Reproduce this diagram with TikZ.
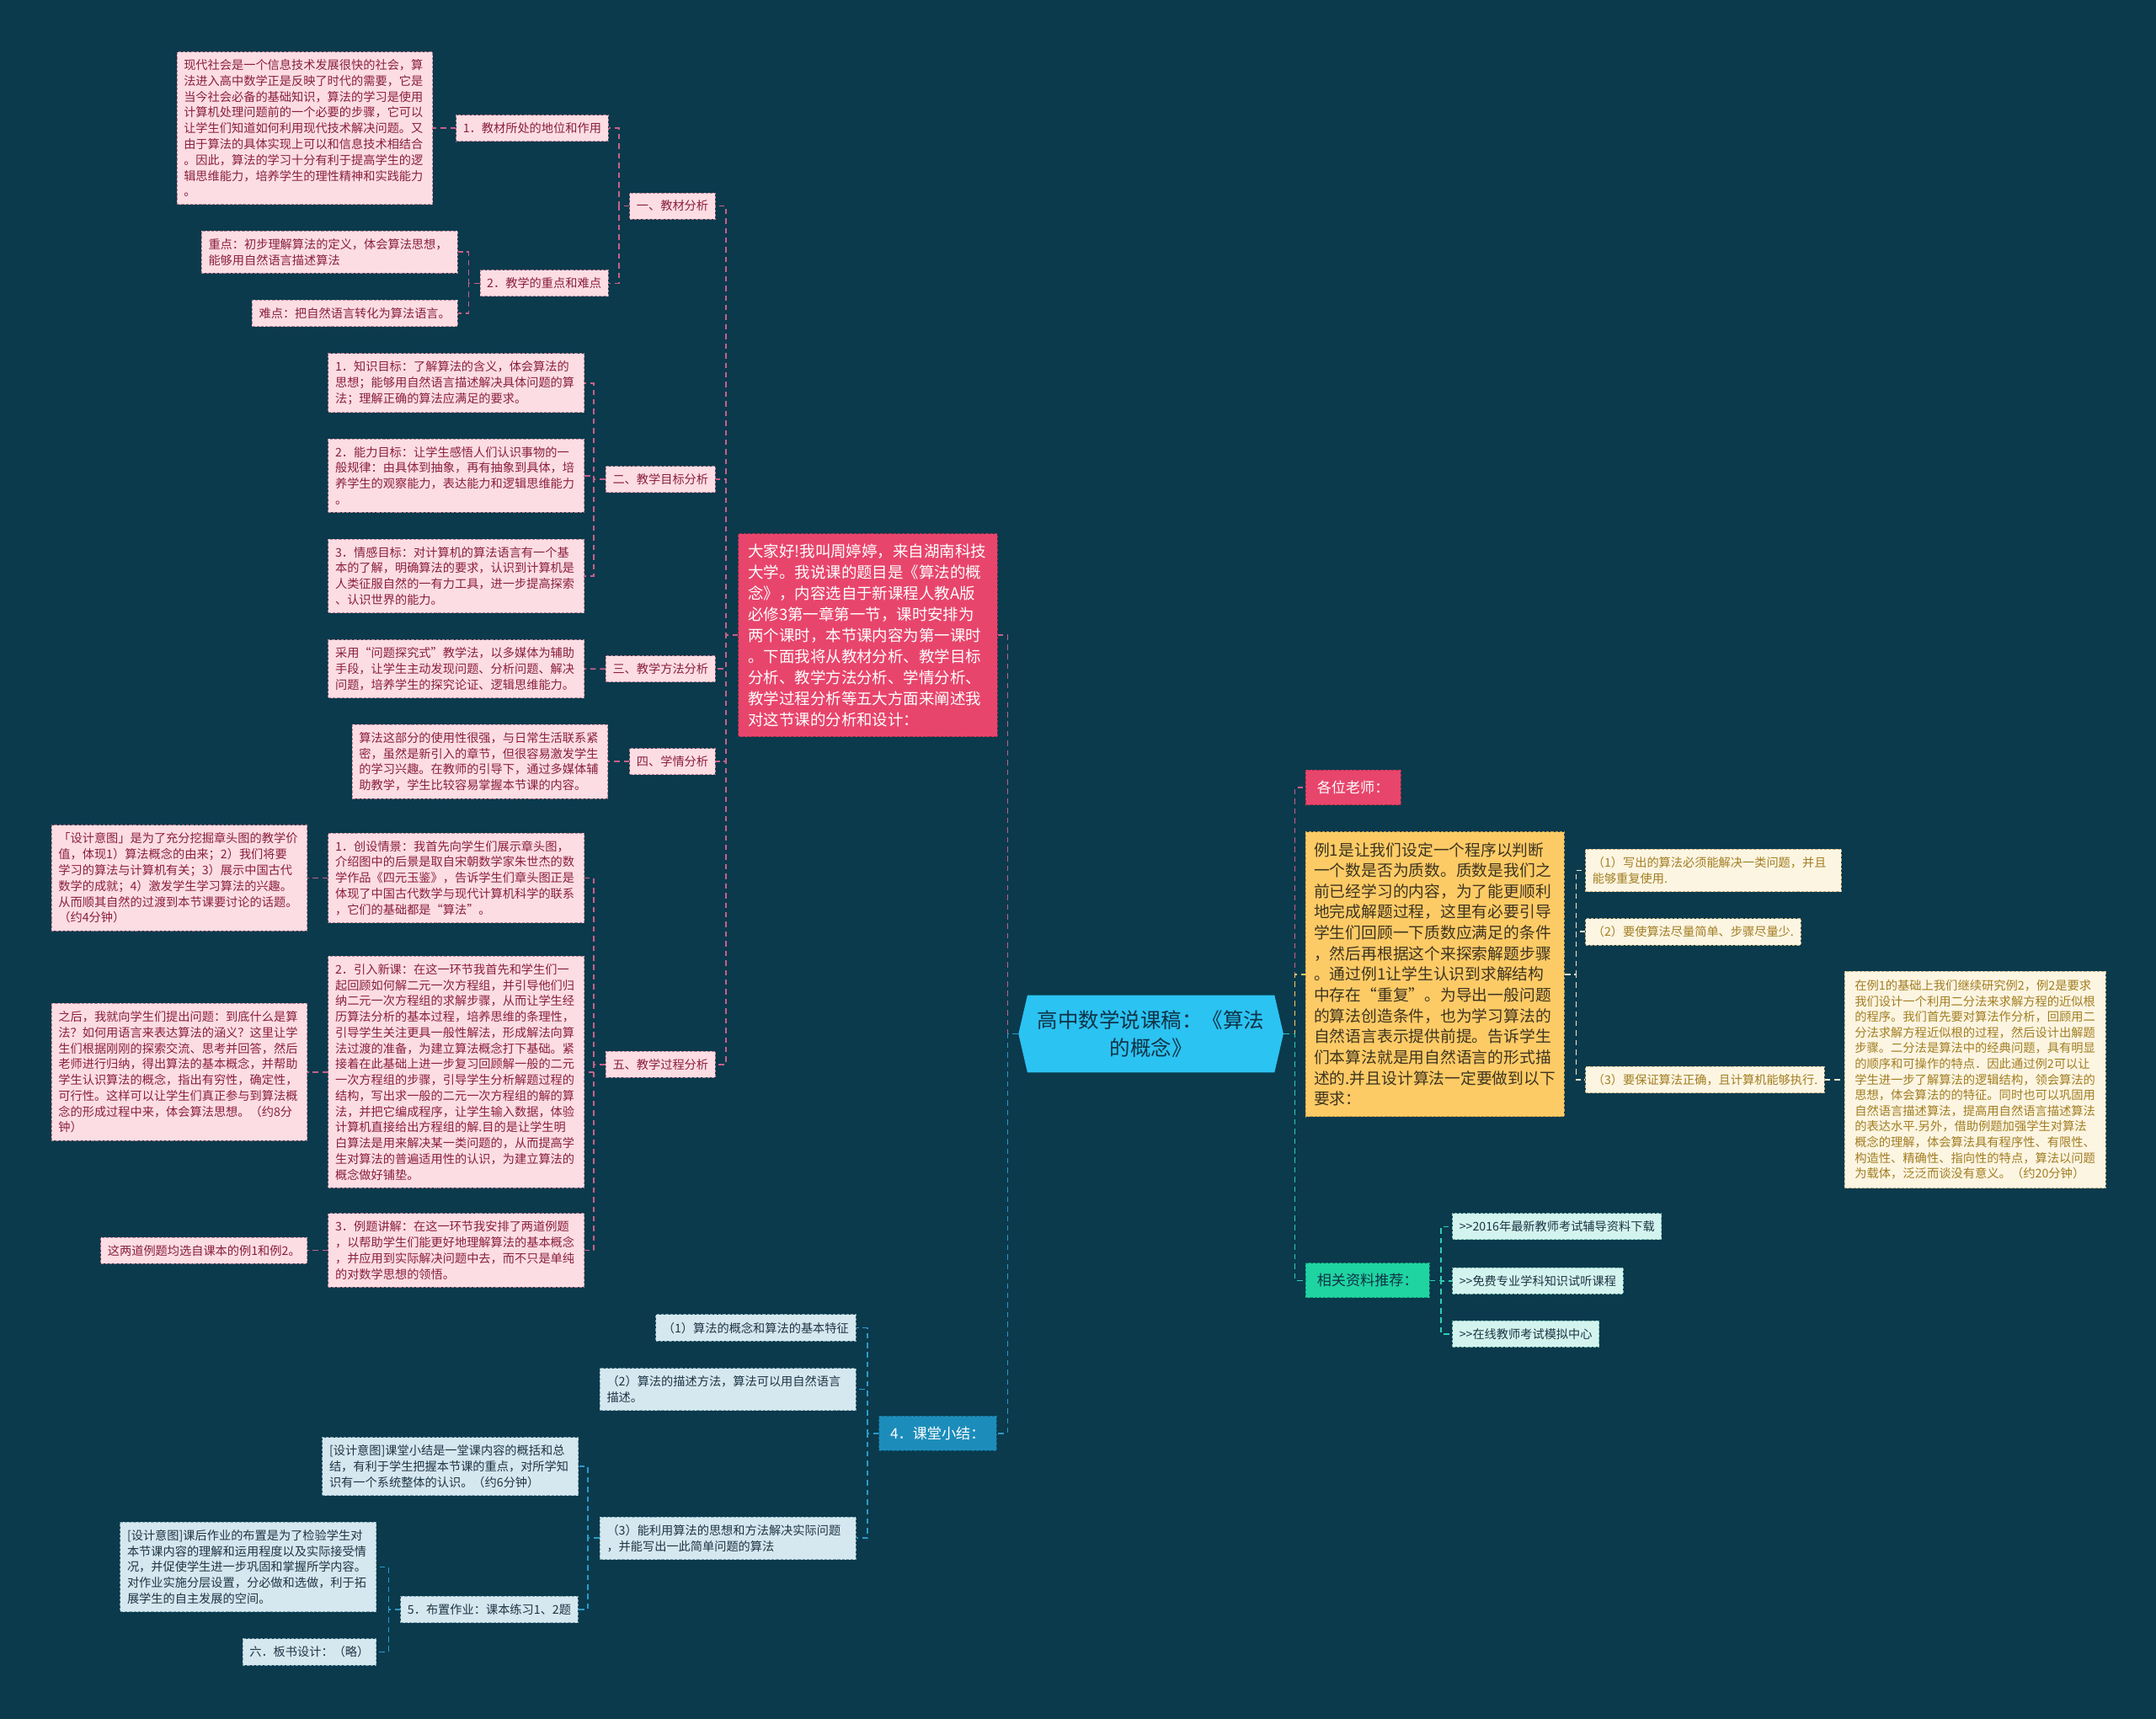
\documentclass[tikz,border=0pt]{standalone}
\usepackage{fontspec}
\setmainfont{Noto Sans CJK SC}
\usetikzlibrary{calc}
\definecolor{bg}{HTML}{0A3A4C}
\definecolor{pinkfill}{HTML}{FCDDE3}
\definecolor{pinktext}{HTML}{8A1F3F}
\definecolor{pinkborder}{HTML}{B87F92}
\definecolor{pinkline}{HTML}{C9608A}
\definecolor{introfill}{HTML}{E8456C}
\definecolor{ctrfill}{HTML}{2BC3F2}
\definecolor{ctrtext}{HTML}{0F3346}
\definecolor{sumfill}{HTML}{1C8DBB}
\definecolor{bluefill}{HTML}{D5E8EF}
\definecolor{bluetext}{HTML}{1E3545}
\definecolor{blueborder}{HTML}{7FA3B3}
\definecolor{blueline}{HTML}{2C9ACB}
\definecolor{yelfill}{HTML}{FDCB66}
\definecolor{yeltext}{HTML}{3E3420}
\definecolor{yelborder}{HTML}{C9A04A}
\definecolor{creamfill}{HTML}{FCF5E2}
\definecolor{creamtext}{HTML}{A27E22}
\definecolor{creamborder}{HTML}{C2AE82}
\definecolor{creamline}{HTML}{F3E9CF}
\definecolor{relfill}{HTML}{1FD4A1}
\definecolor{mintfill}{HTML}{D3F4EE}
\definecolor{minttext}{HTML}{1E3545}
\definecolor{mintborder}{HTML}{7DBDB2}
\definecolor{mintline}{HTML}{2ECFB2}
\tikzset{
  box/.style={rectangle, draw, dash pattern=on 2pt off 1.2pt, line width=0.6pt,
    inner xsep=5pt, inner ysep=5.5pt, align=left, font=\fontsize{8.7}{11.5}\selectfont},
  wide/.style={text width=176pt},
  pk/.style={box, fill=pinkfill, text=pinktext, draw=pinkborder},
  bl/.style={box, fill=bluefill, text=bluetext, draw=blueborder},
  cr/.style={box, fill=creamfill, text=creamtext, draw=creamborder},
  mt/.style={box, fill=mintfill, text=minttext, draw=mintborder},
  hd/.style={rectangle, draw, dash pattern=on 2pt off 1.2pt, line width=0.6pt,
    inner xsep=8.3pt, inner ysep=7.8pt, align=left, font=\fontsize{10.5}{13}\selectfont},
  lk/.style={dash pattern=on 4pt off 3pt, line width=1pt},
}
\begin{document}
\begin{tikzpicture}[x=1pt,y=-1pt]
\fill[bg] (0,0) rectangle (1568,1250);
\useasboundingbox (0,0) rectangle (1568,1250);

% ---------- centre ----------
\fill[ctrfill] (740.7,751.85) -- (747.2,723.8) -- (926.9,723.8) -- (933.4,751.85) -- (926.9,779.9) -- (747.2,779.9) -- cycle;
\node[minimum width=192.7pt, minimum height=56.1pt, inner sep=0pt, text=ctrtext, align=center,
  font=\fontsize{15}{20.4}\selectfont] (ctr) at (837.05,751.85) {高中数学说课稿：《算法\\的概念》};

% ---------- intro ----------
\node[rectangle, draw=introfill!70!black, dash pattern=on 2pt off 1.2pt, line width=0.6pt, fill=introfill, text=white,
  inner xsep=7.2pt, inner ysep=7.3pt, text width=174pt, align=left, font=\fontsize{11.3}{15.3}\selectfont,
  anchor=east] (intro) at (725.6,462) {大家好!我叫周婷婷，来自湖南科技\\大学。我说课的题目是《算法的概\\念》，内容选自于新课程人教A版\\必修3第一章第一节，课时安排为\\两个课时，本节课内容为第一课时\\。下面我将从教材分析、教学目标\\分析、教学方法分析、学情分析、\\教学过程分析等五大方面来阐述我\\对这节课的分析和设计：};

% ---------- sections ----------
\node[pk, anchor=east] (s1) at (520.5,149.8) {一、教材分析};
\node[pk, anchor=east] (s2) at (520.5,348.7) {二、教学目标分析};
\node[pk, anchor=east] (s3) at (520.5,486.5) {三、教学方法分析};
\node[pk, anchor=east] (s4) at (520.5,553.8) {四、学情分析};
\node[pk, anchor=east] (s5) at (520.5,774) {五、教学过程分析};

\node[pk, anchor=east] (n11) at (442.6,93.2) {1．教材所处的地位和作用};
\node[pk, wide, anchor=east] (n11a) at (315,93.2) {现代社会是一个信息技术发展很快的社会，算\\法进入高中数学正是反映了时代的需要，它是\\当今社会必备的基础知识，算法的学习是使用\\计算机处理问题前的一个必要的步骤，它可以\\让学生们知道如何利用现代技术解决问题。又\\由于算法的具体实现上可以和信息技术相结合\\。因此，算法的学习十分有利于提高学生的逻\\辑思维能力，培养学生的理性精神和实践能力\\。};
\node[pk, anchor=east] (n12) at (442.6,206) {2．教学的重点和难点};
\node[pk, wide, anchor=east] (n12a) at (332.9,183.3) {重点：初步理解算法的定义，体会算法思想，\\能够用自然语言描述算法};
\node[pk, anchor=east] (n12b) at (332.9,227.8) {难点：把自然语言转化为算法语言。};

\node[pk, wide, anchor=east] (n21) at (425.1,278.5) {1．知识目标：了解算法的含义，体会算法的\\思想；能够用自然语言描述解决具体问题的算\\法；理解正确的算法应满足的要求。};
\node[pk, wide, anchor=east] (n22) at (425.1,345.9) {2．能力目标：让学生感悟人们认识事物的一\\般规律：由具体到抽象，再有抽象到具体，培\\养学生的观察能力，表达能力和逻辑思维能力\\。};
\node[pk, wide, anchor=east] (n23) at (425.1,418.9) {3．情感目标：对计算机的算法语言有一个基\\本的了解，明确算法的要求，认识到计算机是\\人类征服自然的一有力工具，进一步提高探索\\、认识世界的能力。};

\node[pk, wide, anchor=east] (n31) at (425.1,486.4) {采用“问题探究式”教学法，以多媒体为辅助\\手段，让学生主动发现问题、分析问题、解决\\问题，培养学生的探究论证、逻辑思维能力。};

\node[pk, wide, anchor=east] (n41) at (442.5,553.8) {算法这部分的使用性很强，与日常生活联系紧\\密，虽然是新引入的章节，但很容易激发学生\\的学习兴趣。在教师的引导下，通过多媒体辅\\助教学，学生比较容易掌握本节课的内容。};

\node[pk, wide, anchor=east] (n51) at (425.1,638.5) {1．创设情景：我首先向学生们展示章头图，\\介绍图中的后景是取自宋朝数学家朱世杰的数\\学作品《四元玉鉴》，告诉学生们章头图正是\\体现了中国古代数学与现代计算机科学的联系\\，它们的基础都是“算法”。};
\node[pk, wide, anchor=east] (n51a) at (223.8,638.5) {「设计意图」是为了充分挖掘章头图的教学价\\值，体现1）算法概念的由来；2）我们将要\\学习的算法与计算机有关；3）展示中国古代\\数学的成就；4）激发学生学习算法的兴趣。\\从而顺其自然的过渡到本节课要讨论的话题。\\（约4分钟）};
\node[pk, wide, anchor=east] (n52) at (425.1,779.6) {2．引入新课：在这一环节我首先和学生们一\\起回顾如何解二元一次方程组，并引导他们归\\纳二元一次方程组的求解步骤，从而让学生经\\历算法分析的基本过程，培养思维的条理性，\\引导学生关注更具一般性解法，形成解法向算\\法过渡的准备，为建立算法概念打下基础。紧\\接着在此基础上进一步复习回顾解一般的二元\\一次方程组的步骤，引导学生分析解题过程的\\结构，写出求一般的二元一次方程组的解的算\\法，并把它编成程序，让学生输入数据，体验\\计算机直接给出方程组的解.目的是让学生明\\白算法是用来解决某一类问题的，从而提高学\\生对算法的普遍适用性的认识，为建立算法的\\概念做好铺垫。};
\node[pk, wide, anchor=east] (n52a) at (223.8,779.6) {之后，我就向学生们提出问题：到底什么是算\\法？如何用语言来表达算法的涵义？这里让学\\生们根据刚刚的探索交流、思考并回答，然后\\老师进行归纳，得出算法的基本概念，并帮助\\学生认识算法的概念，指出有穷性，确定性，\\可行性。这样可以让学生们真正参与到算法概\\念的形成过程中来，体会算法思想。（约8分\\钟）};
\node[pk, wide, anchor=east] (n53) at (425.1,909.3) {3．例题讲解：在这一环节我安排了两道例题\\，以帮助学生们能更好地理解算法的基本概念\\，并应用到实际解决问题中去，而不只是单纯\\的对数学思想的领悟。};
\node[pk, anchor=east] (n53a) at (223.8,909.3) {这两道例题均选自课本的例1和例2。};

% ---------- summary branch ----------
\node[hd, fill=sumfill, draw=sumfill!70!black, text=white, anchor=east] (sum) at (724.9,1042.3) {4．课堂小结：};
\node[bl, anchor=east] (b1) at (622.6,965.7) {（1）算法的概念和算法的基本特征};
\node[bl, wide, anchor=east] (b2) at (622.6,1010.4) {（2）算法的描述方法，算法可以用自然语言\\描述。};
\node[bl, wide, anchor=east] (b3) at (622.6,1118.6) {（3）能利用算法的思想和方法解决实际问题\\，并能写出一此简单问题的算法};
\node[bl, wide, anchor=east] (b31) at (420.8,1066.4) {[设计意图]课堂小结是一堂课内容的概括和总\\结，有利于学生把握本节课的重点，对所学知\\识有一个系统整体的认识。（约6分钟）};
\node[bl, anchor=east] (b32) at (420.6,1170.5) {5．布置作业：课本练习1、2题};
\node[bl, wide, anchor=east] (b321) at (273.8,1139.5) {[设计意图]课后作业的布置是为了检验学生对\\本节课内容的理解和运用程度以及实际接受情\\况，并促使学生进一步巩固和掌握所学内容。\\对作业实施分层设置，分必做和选做，利于拓\\展学生的自主发展的空间。};
\node[bl, anchor=east] (b322) at (273.8,1201.3) {六．板书设计：（略）};

% ---------- right side ----------
\node[hd, fill=introfill, draw=introfill!70!black, text=white, anchor=west] (gw) at (949.2,572.8) {各位老师：};
\node[rectangle, draw=yelborder, dash pattern=on 2pt off 1.2pt, line width=0.6pt, fill=yelfill, text=yeltext,
  inner xsep=6.1pt, inner ysep=7.6pt, text width=176pt, align=left, font=\fontsize{11.5}{15.1}\selectfont,
  anchor=west] (yel) at (949.2,708.5) {例1是让我们设定一个程序以判断\\一个数是否为质数。质数是我们之\\前已经学习的内容，为了能更顺利\\地完成解题过程，这里有必要引导\\学生们回顾一下质数应满足的条件\\，然后再根据这个来探索解题步骤\\。通过例1让学生认识到求解结构\\中存在“重复”。为导出一般问题\\的算法创造条件，也为学习算法的\\自然语言表示提供前提。告诉学生\\们本算法就是用自然语言的形式描\\述的.并且设计算法一定要做到以下\\要求：};
\node[cr, wide, anchor=west] (y1) at (1152.8,633) {（1）写出的算法必须能解决一类问题，并且\\能够重复使用.};
\node[cr, anchor=west] (y2) at (1152.8,677.6) {（2）要使算法尽量简单、步骤尽量少.};
\node[cr, anchor=west] (y3) at (1152.8,785.1) {（3）要保证算法正确，且计算机能够执行.};
\node[cr, text width=175pt, inner xsep=7.5pt, inner ysep=6.3pt, font=\fontsize{8.75}{11.4}\selectfont,
  anchor=west] (y3a) at (1341.1,785.1) {在例1的基础上我们继续研究例2，例2是要求\\我们设计一个利用二分法来求解方程的近似根\\的程序。我们首先要对算法作分析，回顾用二\\分法求解方程近似根的过程，然后设计出解题\\步骤。二分法是算法中的经典问题，具有明显\\的顺序和可操作的特点．因此通过例2可以让\\学生进一步了解算法的逻辑结构，领会算法的\\思想，体会算法的的特征。同时也可以巩固用\\自然语言描述算法，提高用自然语言描述算法\\的表达水平.另外，借助例题加强学生对算法\\概念的理解，体会算法具有程序性、有限性、\\构造性、精确性、指向性的特点，算法以问题\\为载体，泛泛而谈没有意义。（约20分钟）};

\node[hd, fill=relfill, draw=relfill!70!black, text=ctrtext, anchor=west] (rel) at (949.2,931.2) {相关资料推荐：};
\node[mt, anchor=west] (r1) at (1056,892) {>{}>2016年最新教师考试辅导资料下载};
\node[mt, anchor=west] (r2) at (1056,931.5) {>{}>免费专业学科知识试听课程};
\node[mt, anchor=west] (r3) at (1056,970) {>{}>在线教师考试模拟中心};

% ---------- connectors ----------
\draw[lk, pinkline] (ctr.west) -- ++(-7.7,0) |- (intro.east);
\draw[lk, blueline] (ctr.west) -- ++(-7.7,0) |- (sum.east);
\foreach \s in {s1,s2,s3,s4,s5} \draw[lk, pinkline] (intro.west) -- ++(-8.7,0) |- (\s.east);
\draw[lk, pinkline] (s1.west) -- ++(-7.5,0) |- (n11.east);
\draw[lk, pinkline] (s1.west) -- ++(-7.5,0) |- (n12.east);
\draw[lk, pinkline] (n11.west) -- (n11a.east);
\draw[lk, pinkline] (n12.west) -- ++(-8,0) |- (n12a.east);
\draw[lk, pinkline] (n12.west) -- ++(-8,0) |- (n12b.east);
\foreach \c in {n21,n22,n23} \draw[lk, pinkline] (s2.west) -- ++(-8.6,0) |- (\c.east);
\draw[lk, pinkline] (s3.west) -- (n31.east);
\draw[lk, pinkline] (s4.west) -- (n41.east);
\foreach \c in {n51,n52,n53} \draw[lk, pinkline] (s5.west) -- ++(-8.6,0) |- (\c.east);
\draw[lk, pinkline] (n51.west) -- (n51a.east);
\draw[lk, pinkline] (n52.west) -- (n52a.east);
\draw[lk, pinkline] (n53.west) -- (n53a.east);

\foreach \c in {b1,b2,b3} \draw[lk, blueline] (sum.west) -- ++(-8,0) |- (\c.east);
\draw[lk, blueline] (b3.west) -- ++(-8.5,0) |- (b31.east);
\draw[lk, blueline] (b3.west) -- ++(-8.5,0) |- (b32.east);
\draw[lk, blueline] (b32.west) -- ++(-8.4,0) |- (b321.east);
\draw[lk, blueline] (b32.west) -- ++(-8.4,0) |- (b322.east);

\draw[lk, pinkline] (ctr.east) -- ++(8,0) |- (gw.west);
\draw[lk, yelfill] (ctr.east) -- ++(8,0) |- (yel.west);
\draw[lk, mintline] (ctr.east) -- ++(8,0) |- (rel.west);
\foreach \c in {y1,y2,y3} \draw[lk, creamline] (yel.east) -- ++(8.2,0) |- (\c.west);
\draw[lk, creamline] (y3.east) -- (y3a.west);
\foreach \c in {r1,r2,r3} \draw[lk, mintline] (rel.east) -- ++(8,0) |- (\c.west);
\end{tikzpicture}
\end{document}
